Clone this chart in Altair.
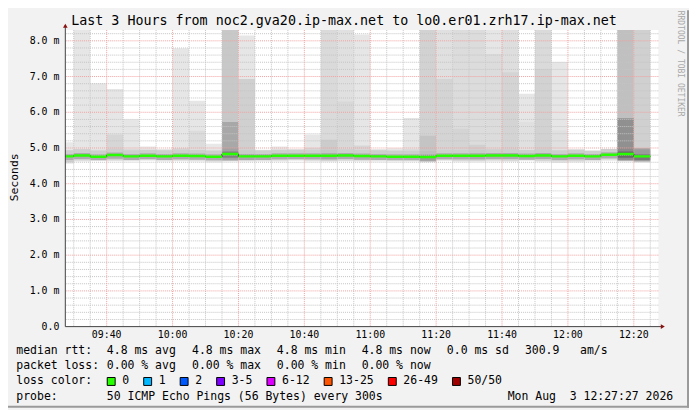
import altair as alt
import pandas as pd

DAY = "2026-08-03"
MONO = "DejaVu Sans Mono"

# ---- data (one value per 5-minute step, labelled by step end) ----
step_end = ["09:30", "09:35", "09:40", "09:45", "09:50", "09:55", "10:00", "10:05", "10:10",
            "10:15", "10:20", "10:25", "10:30", "10:35", "10:40", "10:45", "10:50", "10:55",
            "11:00", "11:05", "11:10", "11:15", "11:20", "11:25", "11:30", "11:35", "11:40",
            "11:45", "11:50", "11:55", "12:00", "12:05", "12:10", "12:15", "12:20", "12:25"]
median_ms = [4.765, 4.792, 4.755, 4.801, 4.765, 4.783, 4.765, 4.783, 4.774, 4.755, 4.829, 4.765,
             4.765, 4.783, 4.783, 4.783, 4.783, 4.792, 4.774, 4.765, 4.755, 4.755, 4.746, 4.783,
             4.783, 4.783, 4.792, 4.792, 4.774, 4.792, 4.765, 4.783, 4.765, 4.810, 4.829, 4.765]
min_ms = [4.56, 4.62, 4.64, 4.63, 4.63, 4.64, 4.62, 4.63, 4.62, 4.60, 4.63, 4.62,
          4.62, 4.62, 4.64, 4.62, 4.62, 4.63, 4.62, 4.62, 4.62, 4.62, 4.60, 4.64,
          4.62, 4.62, 4.62, 4.62, 4.64, 4.62, 4.59, 4.60, 4.62, 4.64, 4.63, 4.60]
max_ms = [5.16, 8.30, 6.81, 6.65, 5.80, 5.04, 4.97, 7.79, 6.32, 5.12, 8.30, 8.15,
          4.95, 5.04, 4.97, 5.38, 8.30, 8.30, 8.18, 4.97, 4.99, 5.84, 8.30, 8.30,
          8.30, 8.30, 8.30, 8.30, 6.52, 8.30, 7.41, 4.97, 4.92, 4.97, 8.30, 8.30]
inner_top_ms = [4.95, 4.97, 4.95, 5.38, 4.97, 4.95, 4.95, 4.99, 5.48, 4.95, 5.73, 6.93,
                4.92, 4.95, 4.95, 5.00, 5.23, 6.30, 5.07, 4.95, 4.95, 4.97, 5.34, 6.93,
                5.54, 5.09, 7.63, 7.12, 5.73, 7.21, 5.50, 4.95, 4.92, 4.95, 5.83, 4.99]
# smoke density shown as grey level (255 = white)
outer_grey = [232, 230, 230, 230, 230, 232, 232, 230, 230, 232, 200, 230,
              232, 232, 232, 230, 218, 224, 230, 232, 232, 230, 210, 224,
              220, 220, 230, 222, 230, 218, 230, 232, 232, 232, 192, 208]
inner_grey = [222, 216, 216, 214, 218, 222, 222, 214, 220, 220, 168, 208,
              222, 220, 220, 216, 204, 216, 214, 222, 222, 218, 196, 212,
              212, 208, 220, 212, 224, 210, 224, 222, 222, 222, 144, 160]

y_ticks = [0, 1, 2, 3, 4, 5, 6, 7, 8]
y_tick_labels = ["0.0", "1.0 m", "2.0 m", "3.0 m", "4.0 m", "5.0 m", "6.0 m", "7.0 m", "8.0 m"]
x_ticks = ["09:40", "10:00", "10:20", "10:40", "11:00", "11:20", "11:40", "12:00", "12:20"]

title_text = "Last 3 Hours from noc2.gva20.ip-max.net to lo0.er01.zrh17.ip-max.net"
rtt_stats = ["4.8 ms avg", "4.8 ms max", "4.8 ms min", "4.8 ms now", "0.0 ms sd", "300.9", "am/s"]
loss_stats = ["0.00 % avg", "0.00 % max", "0.00 % min", "0.00 % now"]
loss_labels = ["0", "1", "2", "3-5", "6-12", "13-25", "26-49", "50/50"]
loss_colors = ["#26ff00", "#00b8ff", "#0059ff", "#7e00ff", "#dd00ff", "#ff5500", "#ff0000", "#a10000"]
probe_text = "50 ICMP Echo Pings (56 Bytes) every 300s"
stamp_text = "Mon Aug\u00a0\u00a03 12:27:27 2026"


def iso(hm, delta_min=0):
    ts = pd.Timestamp(f"{DAY} {hm}") + pd.Timedelta(minutes=delta_min)
    return ts.strftime("%Y-%m-%dT%H:%M:%S")


def dt(hm, s=0):
    h, m = map(int, hm.split(":"))
    return alt.DateTime(year=2026, month=8, date=3, hours=h, minutes=m, seconds=s)


x_scale = alt.Scale(domain=[dt("09:27", 27), dt("12:27", 27)])
y_scale = alt.Scale(domain=[0, 8.3], nice=False, zero=True)
grey_scale = alt.Scale(domain=[0, 255], range=["#000000", "#ffffff"], interpolate="rgb")

# ---- smoke bands (nested, outer first) ----
rows = []
for i, e in enumerate(step_end):
    s, en = iso(e, -5), iso(e)
    med, lo, hi = median_ms[i], min_ms[i], max_ms[i]
    rows.append(dict(start=s, end=en, lo=lo, hi=hi, grey=outer_grey[i], lvl=0))
    rows.append(dict(start=s, end=en, lo=lo + 0.03, hi=min(hi, inner_top_ms[i]), grey=inner_grey[i], lvl=1))
    rows.append(dict(start=s, end=en, lo=lo + 0.05, hi=min(hi, med + 0.17),
                     grey=min(206, inner_grey[i] - 6), lvl=2))
    rows.append(dict(start=s, end=en, lo=med - 0.1, hi=min(hi, med + 0.07),
                     grey=min(172, inner_grey[i] - 40), lvl=3))
bands = pd.DataFrame(rows)

layers = []
for lvl in range(4):
    layers.append(alt.Chart(bands).transform_filter(alt.datum.lvl == lvl)
                  .mark_rect(clip=True)
                  .encode(x=alt.X("start:T", scale=x_scale, axis=None), x2="end:T",
                          y=alt.Y("lo:Q", scale=y_scale, axis=None), y2="hi:Q",
                          color=alt.Color("grey:Q", scale=grey_scale, legend=None)))

# ---- grid ----
minor_t, major_t = [], []
t = pd.Timestamp(f"{DAY} 09:30")
while t <= pd.Timestamp(f"{DAY} 12:25"):
    (major_t if t.minute % 20 == 0 else minor_t).append(t.strftime("%Y-%m-%dT%H:%M:%S"))
    t += pd.Timedelta(minutes=5)
minor_v = [round(k * 0.2, 1) for k in range(1, 42) if k % 5 != 0]
major_v = [1, 2, 3, 4, 5, 6, 7, 8]

grid_minor = dict(color="#c4c4c4", strokeDash=[1, 1], strokeWidth=1)
grid_major = dict(color="#f2a0a0", strokeDash=[1, 1], strokeWidth=1)
layers.append(alt.Chart(pd.DataFrame({"t": minor_t})).mark_rule(**grid_minor)
              .encode(x=alt.X("t:T", scale=x_scale, axis=None)))
layers.append(alt.Chart(pd.DataFrame({"v": minor_v})).mark_rule(**grid_minor)
              .encode(y=alt.Y("v:Q", scale=y_scale, axis=None)))
layers.append(alt.Chart(pd.DataFrame({"t": major_t})).mark_rule(**grid_major)
              .encode(x=alt.X("t:T", scale=x_scale, axis=None)))
layers.append(alt.Chart(pd.DataFrame({"v": major_v})).mark_rule(**grid_major)
              .encode(y=alt.Y("v:Q", scale=y_scale, axis=None)))

# ---- median line ----
med_df = pd.DataFrame({"start": [iso(e, -5) for e in step_end], "end": [iso(e) for e in step_end],
                       "med": median_ms})
step_df = pd.DataFrame({"t": list(med_df["start"]) + [med_df["end"].iloc[-1]],
                        "med": median_ms + [median_ms[-1]]})
layers.append(alt.Chart(step_df).mark_line(interpolate="step-after", color="#202020",
                                           strokeWidth=1, clip=True)
              .encode(x=alt.X("t:T", scale=x_scale, axis=None),
                      y=alt.Y("med:Q", scale=y_scale, axis=None)))
layers.append(alt.Chart(med_df).mark_rule(color=loss_colors[0], strokeWidth=2.5, clip=True)
              .encode(x=alt.X("start:T", scale=x_scale, axis=None), x2="end:T",
                      y=alt.Y("med:Q", scale=y_scale, axis=None)))

# ---- axis lines, arrows and tick labels ----
one = pd.DataFrame({"k": [0]})
AX = "#404040"
layers.append(alt.Chart(one).mark_rule(color=AX, strokeWidth=1)
              .encode(x=alt.value(0), y=alt.value(-5), y2=alt.value(300)))
layers.append(alt.Chart(one).mark_rule(color=AX, strokeWidth=1)
              .encode(x=alt.value(0), x2=alt.value(603), y=alt.value(300)))
layers.append(alt.Chart(one).mark_point(shape="triangle-up", filled=True, size=22,
                                        color="#8b1010", opacity=1)
              .encode(x=alt.value(0), y=alt.value(-4.5)))
layers.append(alt.Chart(one).mark_point(shape="triangle-right", filled=True, size=22,
                                        color="#8b1010", opacity=1)
              .encode(x=alt.value(604.5), y=alt.value(300)))

ytl = pd.DataFrame({"v": y_ticks, "lab": y_tick_labels})
layers.append(alt.Chart(ytl).mark_text(align="right", baseline="middle", font=MONO, fontSize=10,
                                       color="#000000")
              .encode(x=alt.value(-6), y=alt.Y("v:Q", scale=y_scale, axis=None), text="lab:N"))
xtl = pd.DataFrame({"t": [iso(x) for x in x_ticks], "lab": x_ticks})
layers.append(alt.Chart(xtl).mark_text(align="center", baseline="middle", font=MONO, fontSize=10,
                                       color="#000000")
              .encode(x=alt.X("t:T", scale=x_scale, axis=None), y=alt.value(309), text="lab:N"))


# ---- texts ----
def label(txt, x, y, size=11.6, align="left", angle=0, color="#000000", font=MONO):
    kw = dict(align=align, baseline="middle", fontSize=size, font=font, color=color)
    if angle:
        kw["angle"] = angle
    return (alt.Chart(pd.DataFrame({"t": [txt]})).mark_text(**kw)
            .encode(x=alt.value(x), y=alt.value(y), text="t:N"))


layers.append(label(title_text, 282, -9, size=13.5, align="center"))
layers.append(label("Seconds", -50.5, 149, size=11.5, align="center", angle=270))
layers.append(label("RRDTOOL / TOBI OETIKER", 622, 34, size=8.1, align="center", angle=90,
                    color="#a8a8a8"))

LX = -49.6
col_x = [42, 128.2, 214, 299.8, 386, 465, 520.7]
layers.append(label("median rtt:", LX, 325))
for txt, x in zip(rtt_stats, col_x):
    layers.append(label(txt, x, 325))
layers.append(label("packet loss:", LX, 340))
for txt, x in zip(loss_stats, col_x):
    layers.append(label(txt, x, 340))
layers.append(label("loss color:", LX, 355.5))
cw = 7.0
bx = 42.4
for txt, colr in zip(loss_labels, loss_colors):
    layers.append(alt.Chart(one).mark_rect(fill=colr, stroke="#000000", strokeWidth=1)
                  .encode(x=alt.value(bx), x2=alt.value(bx + 8), y=alt.value(351.5),
                          y2=alt.value(359.5)))
    tx = bx + 15.2
    layers.append(label(txt, tx, 355.5))
    bx = tx + len(txt) * cw + 14.7
layers.append(label("probe:", LX, 371))
layers.append(label(probe_text, 42, 371))
layers.append(label(stamp_text, 615, 371, align="right"))

# ---- frame (shade) ----
layers.append(alt.Chart(one).mark_rule(color="#9a9a9a", strokeWidth=2)
              .encode(x=alt.value(-58), x2=alt.value(631), y=alt.value(381)))
layers.append(alt.Chart(one).mark_rule(color="#9a9a9a", strokeWidth=2)
              .encode(x=alt.value(630), y=alt.value(-20), y2=alt.value(382)))

chart = (alt.layer(*layers)
         .properties(width=600, height=300, background="#f2f2f2",
                     padding={"left": 58, "top": 20, "right": 31, "bottom": 82},
                     autosize=alt.AutoSizeParams(type="none"))
         .configure_view(fill="#ffffff", stroke=None))

chart.save("out.html", embed_options={"renderer": "svg", "actions": False})
